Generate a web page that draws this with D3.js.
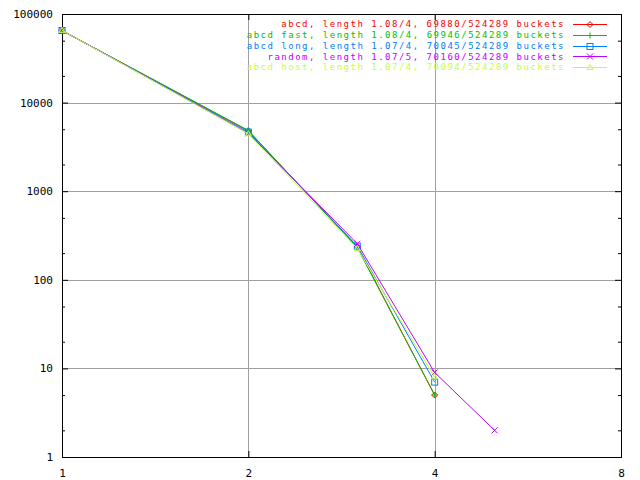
<!DOCTYPE html>
<html><head><meta charset="utf-8">
<script src="https://cdn.jsdelivr.net/npm/d3@7"></script>
<style>body{margin:0;background:#fff}svg{display:block}</style>
</head><body><svg id="c" width="640" height="480"></svg>
<script>
const chainLength = [1, 2, 3, 4, 5];
const seriesNames = [
  "abcd, length 1.08/4, 69880/524289 buckets",
  "abcd fast, length 1.08/4, 69946/524289 buckets",
  "abcd long, length 1.07/4, 70045/524289 buckets",
  "random, length 1.07/5, 70160/524289 buckets",
  "abcd host, length 1.07/4, 70094/524289 buckets"
];
const abcd     = [64845, 4800, 235, 5];
const abcdFast = [64861, 4850, 230, 5];
const abcdLong = [65148, 4650, 240, 7];
const random   = [65399, 4500, 255, 9, 2];
const abcdHost = [65411, 4450, 225, 8];
const xTicks = [1, 2, 4, 8];
const yTicks = [1, 10, 100, 1000, 10000, 100000];
const yMinor = [2, 5];

const colors = ["#ff0000", "#00c000", "#0080ff", "#c000ff", "#c0ff40"];
const markers = ["diamond", "plus", "square", "cross", "triangle"];
const seriesVals = [abcd, abcdFast, abcdLong, random, abcdHost];

const L = 62, R = 621, T = 14, B = 457;
const svg = d3.select("#c");
const x = d3.scaleLog().base(2).domain([1, 8]).range([L, R]);
const y = d3.scaleLog().domain([1, 100000]).range([B, T]);
const font = "'DejaVu Sans Mono', monospace";

// grid
const g = svg.append("g");
xTicks.filter(v => v > 1 && v < 8).forEach(v => {
  g.append("line").attr("x1", Math.round(x(v)) + 0.5).attr("x2", Math.round(x(v)) + 0.5)
    .attr("y1", T).attr("y2", B).attr("stroke", "#a0a0a0").attr("stroke-width", 1);
});
yTicks.filter(v => v > 1 && v < 100000).forEach(v => {
  g.append("line").attr("y1", Math.round(y(v)) + 0.5).attr("y2", Math.round(y(v)) + 0.5)
    .attr("x1", L).attr("x2", R).attr("stroke", "#a0a0a0").attr("stroke-width", 1);
});

// ticks via axes
const yAxisL = d3.axisLeft(y).tickValues(yTicks).tickSize(-6).tickPadding(9).tickFormat(d3.format("d"));
const yAxisR = d3.axisRight(y).tickValues(yTicks).tickSize(-6).tickFormat("");
const xAxisB = d3.axisBottom(x).tickValues(xTicks).tickSize(-6).tickPadding(12).tickFormat(d3.format("d"));
const xAxisT = d3.axisTop(x).tickValues(xTicks).tickSize(-6).tickFormat("");
const minorVals = [];
for (let d = 1; d < 100000; d *= 10) yMinor.forEach(m => minorVals.push(d * m));
const yMinL = d3.axisLeft(y).tickValues(minorVals).tickSize(-3).tickFormat("");
const yMinR = d3.axisRight(y).tickValues(minorVals).tickSize(-3).tickFormat("");

function styleAxis(sel) {
  sel.select(".domain").remove();
  sel.selectAll(".tick line").attr("stroke", "#000");
  sel.selectAll("text").attr("font-family", font).attr("font-size", "11px").attr("fill", "#000");
}
styleAxis(svg.append("g").attr("transform", `translate(${L},0)`).call(yAxisL));
styleAxis(svg.append("g").attr("transform", `translate(${R},0)`).call(yAxisR));
styleAxis(svg.append("g").attr("transform", `translate(0,${B})`).call(xAxisB));
styleAxis(svg.append("g").attr("transform", `translate(0,${T})`).call(xAxisT));
styleAxis(svg.append("g").attr("transform", `translate(${L},0)`).call(yMinL));
styleAxis(svg.append("g").attr("transform", `translate(${R},0)`).call(yMinR));

// border
svg.append("rect").attr("x", L + 0.5).attr("y", T + 0.5).attr("width", R - L).attr("height", B - T)
  .attr("fill", "none").attr("stroke", "#000").attr("stroke-width", 1);

function drawMarker(sel, type, cx, cy, color) {
  const s = 3;
  if (type === "diamond") {
    sel.append("path").attr("d", `M${cx},${cy - s}L${cx + s},${cy}L${cx},${cy + s}L${cx - s},${cy}Z`)
      .attr("fill", "none").attr("stroke", color);
  } else if (type === "plus") {
    sel.append("path").attr("d", `M${cx - s},${cy}H${cx + s}M${cx},${cy - s}V${cy + s}`).attr("stroke", color);
  } else if (type === "square") {
    sel.append("rect").attr("x", cx - s).attr("y", cy - s).attr("width", 2 * s).attr("height", 2 * s)
      .attr("fill", "none").attr("stroke", color);
  } else if (type === "cross") {
    sel.append("path").attr("d", `M${cx - s},${cy - s}L${cx + s},${cy + s}M${cx - s},${cy + s}L${cx + s},${cy - s}`).attr("stroke", color);
  } else {
    sel.append("path").attr("d", `M${cx},${cy - s}L${cx + s},${cy + s - 1}L${cx - s},${cy + s - 1}Z`)
      .attr("fill", "none").attr("stroke", color);
  }
}

// series
const line = d3.line().x(d => x(d[0])).y(d => y(d[1]));
seriesVals.forEach((vals, i) => {
  const pts = vals.map((v, j) => [chainLength[j], v]);
  const gs = svg.append("g");
  gs.append("path").attr("d", line(pts)).attr("fill", "none").attr("stroke", colors[i]).attr("stroke-width", 1);
  pts.forEach(p => drawMarker(gs, markers[i], x(p[0]), y(p[1]), colors[i]));
});

// legend
seriesNames.forEach((name, i) => {
  const yy = 24 + i * 10.8;
  svg.append("text").attr("x", 565).attr("y", yy).attr("dy", "0.35em").attr("text-anchor", "end")
    .attr("font-family", font).attr("font-size", "9px").attr("letter-spacing", "1.5px")
    .attr("fill", colors[i]).text(name);
  svg.append("line").attr("x1", 573).attr("x2", 607).attr("y1", Math.round(yy) + 0.5).attr("y2", Math.round(yy) + 0.5)
    .attr("stroke", colors[i]).attr("stroke-width", 1);
  drawMarker(svg, markers[i], 590, Math.round(yy) + 0.5, colors[i]);
});
</script></body></html>
